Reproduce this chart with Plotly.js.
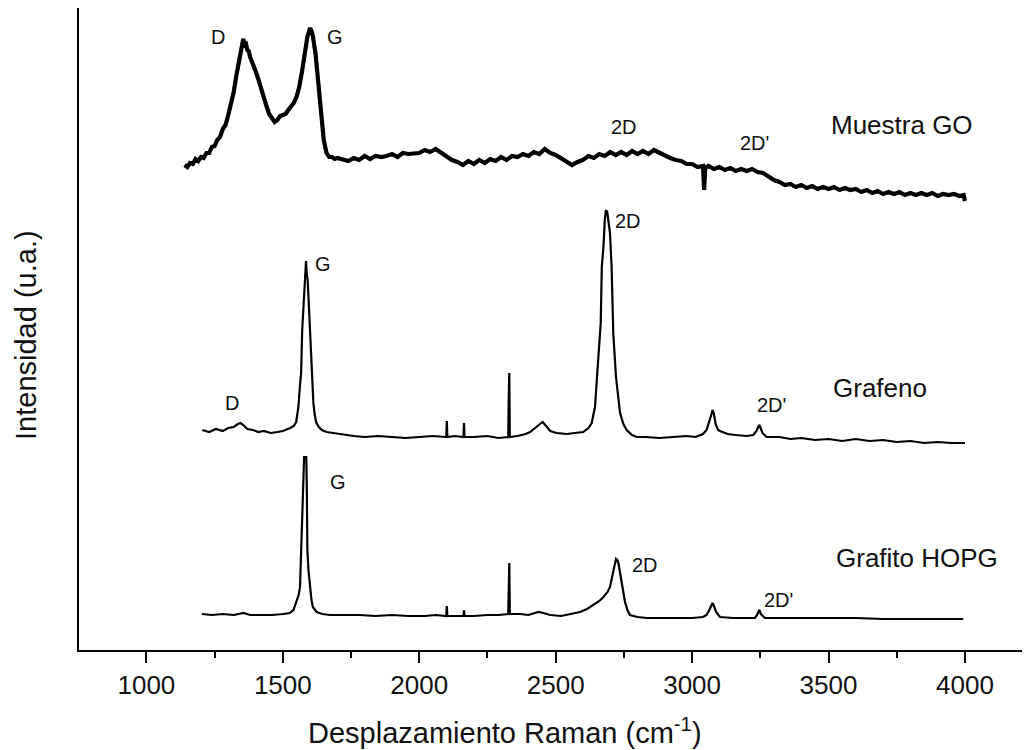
<!DOCTYPE html>
<html>
<head>
<meta charset="utf-8">
<script src="https://cdn.plot.ly/plotly-3.0.1.min.js"></script>
<style>
  html, body { margin: 0; padding: 0; background: #ffffff; }
  #chart { width: 1025px; height: 750px; }
</style>
</head>
<body>
<div id="chart"></div>
<script>
// Raman spectra (stacked with vertical offsets, arbitrary units)

// Óxido de grafeno (muestra GO)
const goShift = [
  1140,1150,1160,1170,1180,1190,1200,1210,1220,1230,1240,1250,1260,1270,1280,1290,
  1300,1310,1320,1330,1340,1345,1350,1355,1360,1365,1370,1375,1380,1390,1400,1410,
  1420,1430,1440,1450,1460,1470,1480,1490,1500,1510,1520,1530,1540,1550,1560,1570,
  1580,1590,1595,1600,1605,1610,1620,1630,1640,1650,1660,1670,1680,1690,1700,
  1720,1740,1760,1780,1800,1820,1840,1860,1880,1900,1920,1940,1960,1980,2000,2020,
  2040,2060,2080,2100,2120,2140,2160,2180,2200,2220,2240,2260,2280,2300,2320,2340,
  2360,2380,2400,2420,2440,2460,2480,2500,2520,2540,2560,2580,2600,2620,2640,2660,
  2680,2700,2720,2740,2760,2780,2800,2820,2840,2860,2880,2900,2920,2940,2960,2980,
  3000,3020,3040,3044,3048,3060,3080,3100,3120,3140,3160,3180,3200,3220,3240,3260,
  3280,3300,3320,3340,3360,3380,3400,3420,3440,3460,3480,3500,3520,3540,3560,3580,
  3600,3620,3640,3660,3680,3700,3720,3740,3760,3780,3800,3820,3840,3860,3880,3900,
  3920,3940,3960,3980,3995,4000
];
const goIntensity = [
  485,483,487,486,491,489,493,492,497,497,503,504,510,513,521,525,
  535,545,558,575,590,600,607,611,605,606,600,599,593,587,579,571,
  561,553,544,536,532,528,530,534,535,536,540,543,547,553,563,578,
  597,613,618,622,619,614,596,570,540,510,497,493,493,491,492,
  491,489,492,490,494,491,494,493,494,496,493,497,496,497,497,500,
  498,501,497,494,490,488,485,489,486,490,487,491,489,493,490,494,
  493,496,494,498,496,501,497,495,492,489,485,488,490,494,492,496,
  494,498,495,498,495,499,496,499,496,500,497,494,492,490,489,486,
  486,483,484,460,482,484,481,483,480,482,479,481,479,481,478,477,
  473,470,468,465,466,463,465,462,464,461,463,461,463,460,462,460,
  461,458,460,457,459,456,458,456,458,455,457,455,457,455,457,454,
  456,455,456,454,455,449
];

// Grafeno
const grafenoShift = [
  1205,1230,1255,1280,1300,1320,1335,1345,1355,1370,1390,1410,1430,1455,1480,1500,
  1527,1540,1549,1557,1563,1567,1571,1575,1579,1582,1585,1588,1591,1594,1598,1602,
  1607,1612,1617,1622,1632,1643,1660,1685,1720,1760,1800,1850,1900,1950,2000,2050,
  2095,2099,2101,2103,2130,2162,2164,2166,2200,2250,2290,2326,2328,2330,2332,2360,
  2390,2406,2420,2440,2452,2465,2480,2504,2540,2570,2601,2620,2632,2644,2656,2665,
  2669,2675,2680,2684,2689,2694,2699,2705,2711,2721,2736,2748,2760,2780,2797,2830,
  2880,2930,2980,3013,3040,3053,3063,3070,3075,3080,3086,3095,3102,3130,3160,3200,
  3224,3236,3242,3246,3251,3258,3273,3320,3360,3400,3450,3500,3550,3600,3650,3700,
  3750,3800,3850,3900,3950,4000
];
const grafenoIntensity = [
  220,218,221,219,222,223,226,227,225,221,220,218,219,217,218,219,
  222,224,228,243,265,277,320,343,370,385,389,375,370,353,330,310,
  275,247,235,228,223,220,218,217,215,214,213,214,213,212,213,214,
  213,213,229,213,214,213,227,213,213,214,212,213,253,277,213,214,
  216,218,221,225,228,224,219,217,216,217,218,222,227,243,293,327,
  383,403,430,440,438,425,417,383,317,273,237,226,220,215,213,213,
  212,213,214,213,216,220,228,235,240,236,226,220,219,216,215,214,
  215,219,223,225,222,217,213,213,211,212,210,211,209,211,209,210,
  208,209,207,208,207,207
];

// Grafito HOPG
const grafitoShift = [
  1203,1240,1280,1320,1356,1380,1420,1460,1502,1525,1539,1551,1558,1563,1566,1569,
  1572,1575,1578,1582,1586,1588,1590,1594,1600,1605,1610,1624,1645,1673,1720,1780,
  1840,1900,1960,2020,2060,2099,2101,2103,2130,2162,2164,2166,2200,2250,2290,2326,
  2328,2330,2332,2370,2400,2420,2437,2455,2480,2520,2560,2589,2615,2638,2660,2675,
  2690,2699,2705,2711,2716,2721,2726,2730,2736,2742,2748,2754,2763,2772,2800,2834,
  2900,2950,3000,3040,3053,3063,3070,3075,3080,3088,3102,3150,3200,3230,3238,3246,
  3252,3267,3300,3400,3500,3600,3700,3800,3900,3994
];
const grafitoIntensity = [
  36,35,36,35,37,35,35,35,36,37,40,50,55,63,90,123,
  140,165,193,193,193,160,100,80,60,50,43,38,36,35,35,35,
  34,35,34,34,35,34,44,34,34,34,40,34,34,35,35,36,
  61,87,36,36,35,37,38,37,35,34,36,38,41,45,49,53,
  58,63,70,80,86,91,90,87,77,67,57,48,40,35,33,32,
  32,32,32,33,35,40,44,47,44,38,33,32,32,32,35,40,
  36,32,32,32,32,32,31,31,31,31
];

// Peak and sample labels: [text, Raman shift, intensity, font size]
const labelText  = ['D','G','2D',"2D'",'Muestra GO','D','G','2D',"2D'",'Grafeno','G','2D',"2D'",'Grafito HOPG'];
const labelShift = [1263,1691,2751,3230,3768,1313,1649,2766,3292,3688,1704,2827,3316,3823];
const labelInt   = [613,613,523,507,525,247,386,429,245,262,168,85,50,92];
const labelSize  = [20,20,20,20,26,20,20,20,20,26,20,20,20,26];

const FONT = 'Liberation Sans, Arial, Helvetica, sans-serif';
const INK = '#111111';

// GO is a noisy spectrum: drawn as a heavy stroke so the noise reads as a band
const traces = [
  { x: goShift, y: goIntensity, name: 'Muestra GO', mode: 'lines',
    line: { color: '#000000', width: 4.2 } },
  { x: grafenoShift, y: grafenoIntensity, name: 'Grafeno', mode: 'lines',
    line: { color: '#000000', width: 2.2 } },
  { x: grafitoShift, y: grafitoIntensity, name: 'Grafito HOPG', mode: 'lines',
    line: { color: '#000000', width: 2.2 } }
];

const annotations = labelText.map((t, i) => ({
  x: labelShift[i], y: labelInt[i], xref: 'x', yref: 'y',
  text: t, showarrow: false, xanchor: 'center', yanchor: 'middle',
  font: { family: FONT, size: labelSize[i], color: INK }
}));

// Axis titles
annotations.push({
  xref: 'paper', yref: 'paper', x: 0.4517, y: -0.126,
  text: 'Desplazamiento Raman (cm<sup>-1</sup>)', showarrow: false,
  xanchor: 'center', yanchor: 'middle',
  font: { family: FONT, size: 29, color: INK }
});
annotations.push({
  xref: 'paper', yref: 'paper', x: -0.0562, y: 0.4907,
  text: 'Intensidad (u.a.)', showarrow: false, textangle: -90,
  xanchor: 'center', yanchor: 'middle',
  font: { family: FONT, size: 29, color: INK }
});

const layout = {
  width: 1025, height: 750,
  margin: { l: 79, r: 3, t: 8, b: 100 },
  paper_bgcolor: '#ffffff', plot_bgcolor: '#ffffff',
  showlegend: false,
  xaxis: {
    range: [753, 4209], showgrid: false, zeroline: false,
    showline: true, linecolor: '#000000', linewidth: 2,
    ticks: 'outside', ticklen: 11, tickwidth: 2, tickcolor: '#000000',
    tick0: 0, dtick: 500,
    minor: { dtick: 250, ticks: 'outside', ticklen: 6, tickwidth: 2, tickcolor: '#000000', showgrid: false },
    tickfont: { family: FONT, size: 26, color: INK }
  },
  yaxis: {
    range: [0, 642], showgrid: false, zeroline: false,
    showline: true, linecolor: '#000000', linewidth: 2,
    ticks: '', showticklabels: false
  },
  annotations: annotations
};

Plotly.newPlot('chart', traces, layout, { displayModeBar: false, staticPlot: true });
</script>
</body>
</html>
